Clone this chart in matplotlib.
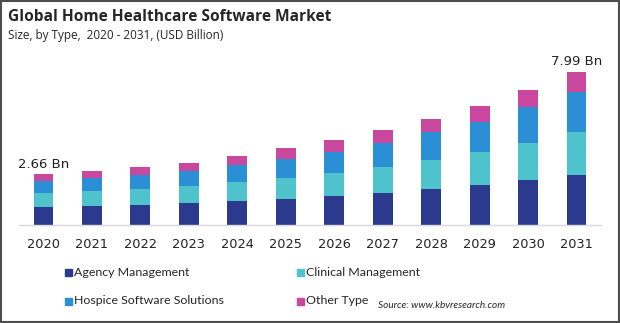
import numpy as np
import matplotlib
matplotlib.use("Agg")
from matplotlib import pyplot as plt
from matplotlib.patches import Rectangle

# ================================================================
# DATA
# ================================================================
YEARS = ["2020", "2021", "2022", "2023", "2024", "2025",
         "2026", "2027", "2028", "2029", "2030", "2031"]

AGENCY = [0.96, 1.01, 1.06, 1.16, 1.27, 1.37, 1.53, 1.69, 1.90, 2.10, 2.35, 2.61]
CLINICAL = [0.73, 0.78, 0.83, 0.89, 0.99, 1.08, 1.20, 1.36, 1.50, 1.72, 1.95, 2.26]
HOSPICE = [0.59, 0.66, 0.73, 0.77, 0.89, 0.99, 1.10, 1.24, 1.43, 1.57, 1.83, 2.04]
OTHER = [0.38, 0.38, 0.42, 0.42, 0.47, 0.56, 0.61, 0.64, 0.72, 0.82, 0.92, 1.08]

SERIES_NAMES = ["Agency Management", "Clinical Management",
                "Hospice Software Solutions", "Other Type"]
COLORS = ["#2c3a8e", "#4fc3cc", "#2a8fd4", "#c8489e"]

LABELS = {0: "2.66 Bn", 11: "7.99 Bn"}

# ================================================================
# PLOT
# ================================================================
fig = plt.figure(figsize=(6.2, 3.23), dpi=100)
ax = fig.add_axes([0.031, 1 - 225 / 323, 0.938, 163 / 323])

x = np.arange(len(YEARS))
bottom = np.zeros(len(YEARS))
for vals, color in zip([AGENCY, CLINICAL, HOSPICE, OTHER], COLORS):
    ax.bar(x, vals, width=0.41, bottom=bottom, color=color, zorder=2)
    bottom += np.asarray(vals)

for i, txt in LABELS.items():
    ax.text(x[i], bottom[i] + 0.18, txt, ha="center", va="bottom",
            fontsize=9.5, color="#222222", family="DejaVu Sans")

ax.set_xlim(-0.5, 11.5)
ax.set_ylim(0, 8.5)
ax.set_yticks([])
ax.set_xticks(x)
ax.set_xticklabels(YEARS, fontsize=9.3, color="#222222")
ax.tick_params(axis="x", length=0, pad=9)
for side in ["top", "right", "left"]:
    ax.spines[side].set_visible(False)
ax.spines["bottom"].set_color("#d9d9d9")
ax.spines["bottom"].set_linewidth(1.0)

# titles
fig.text(8 / 620, 1 - 17 / 323, "Global Home Healthcare Software Market",
         fontsize=11.2, fontweight="bold", color="#262626",
         family="Open Sans", va="center", ha="left")
fig.text(8 / 620, 1 - 36 / 323, "Size, by Type,  2020 - 2031, (USD Billion)",
         fontsize=8.5, color="#262626", family="Open Sans", va="center", ha="left")

# legend drawn manually
legend_pos = [(65, 272), (297, 272), (65, 301), (297, 301)]
for (lx, ly), name, color in zip(legend_pos, SERIES_NAMES, COLORS):
    fig.patches.append(Rectangle((lx / 620, 1 - (ly + 3.5) / 323), 7 / 620, 7 / 323,
                                 transform=fig.transFigure, color=color))
    fig.text((lx + 9) / 620, 1 - ly / 323, name, fontsize=8.9, color="#262626",
             family="Lato", va="center", ha="left")

fig.text(378 / 620, 1 - 306 / 323, "Source: www.kbvresearch.com",
         fontsize=7.2, style="italic", color="#262626", family="Lato",
         va="center", ha="left")

# outer frame
fig.patches.append(Rectangle((0.001, 0.002), 0.997, 0.995, transform=fig.transFigure,
                             fill=False, edgecolor="#4d4d4d", linewidth=1.5))

fig.savefig("out.png", dpi=100)
